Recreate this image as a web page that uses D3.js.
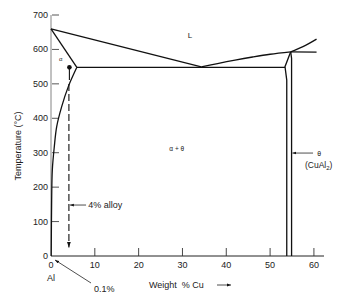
<!DOCTYPE html>
<html>
<head>
<meta charset="utf-8">
<script src="https://cdn.jsdelivr.net/npm/d3@7"></script>
<style>
  body { margin: 0; background: #fff; }
  svg text { font-family: "Liberation Sans", Arial, sans-serif; fill: #222; }
  .phase { fill: none; stroke: #111; stroke-width: 1.3; }
</style>
</head>
<body>
<div id="chart"></div>
<script>
// tick values
var xTicks = [10, 20, 30, 40, 50, 60];
var xTickLabels = [0, 10, 20, 30, 40, 50, 60];
var yTicks = [0, 100, 200, 300, 400, 500, 600, 700];

// phase boundaries, [wt% Cu, temperature C]
var liquidusAl = [[0, 660], [34.3, 549]];
var liquidusTheta = [[34.3, 549], [38, 559], [42, 569], [46, 578], [50, 586], [54.7, 593]];
var liquidusBeyond = [[54.7, 593], [57.5, 608], [60.6, 630]];
var peritectic = [[54.7, 593], [60.6, 592]];
var solidus = [[0, 660], [5.9, 548]];
var eutectic = [[5.9, 548], [53.4, 548]];
var solvus = [[5.9, 548], [3.95, 492], [2.44, 434], [1.3, 376], [0.75, 317], [0.3, 250], [0.15, 163], [0.05, 0]];
var thetaLeft = [[54.7, 593], [53.4, 550], [53.8, 511], [53.8, 0]];
var thetaRight = [[54.7, 593], [54.9, 574], [54.9, 0]];

// 4% alloy marker
var alloyX = 4.2;
var alloyTop = 548;
var alloySolidEnd = 511;
var alloyBottom = 25;

var width = 350, height = 300;
var svg = d3.select("#chart").append("svg")
    .attr("width", width).attr("height", height);

var defs = svg.append("defs");
defs.append("marker").attr("id", "arrow")
    .attr("viewBox", "0 0 10 10").attr("refX", 10).attr("refY", 5)
    .attr("markerWidth", 5).attr("markerHeight", 5)
    .attr("orient", "auto-start-reverse")
    .append("path").attr("d", "M0,1.5 L10,5 L0,8.5 z").attr("fill", "#111");

var x = d3.scaleLinear().domain([0, 62.3]).range([51, 324]);
var y = d3.scaleLinear().domain([0, 700]).range([256, 15]);

// axes
svg.append("line").attr("x1", x(0)).attr("x2", x(62.3))
    .attr("y1", y(0)).attr("y2", y(0))
    .attr("stroke", "#222").attr("stroke-width", 1);
svg.append("line").attr("x1", x(0)).attr("x2", x(0))
    .attr("y1", y(0)).attr("y2", y(700))
    .attr("stroke", "#666").attr("stroke-width", 0.8);

svg.selectAll(".xtick").data(xTicks).enter().append("line")
    .attr("x1", function (d) { return x(d); }).attr("x2", function (d) { return x(d); })
    .attr("y1", y(0)).attr("y2", y(0) - 8)
    .attr("stroke", "#333").attr("stroke-width", 0.9);
svg.selectAll(".xlab").data(xTickLabels).enter().append("text")
    .attr("x", function (d) { return x(d); }).attr("y", y(0) + 12)
    .attr("text-anchor", "middle").attr("font-size", 9).text(function (d) { return d; });

svg.selectAll(".ytick").data(yTicks.slice(1)).enter().append("line")
    .attr("x1", x(0) + 1).attr("x2", x(0) + 8)
    .attr("y1", function (d) { return y(d); }).attr("y2", function (d) { return y(d); })
    .attr("stroke", "#444").attr("stroke-width", 0.9);
svg.selectAll(".ylab").data(yTicks).enter().append("text")
    .attr("x", x(0) - 3).attr("y", function (d) { return y(d) + 3; })
    .attr("text-anchor", "end").attr("font-size", 9).text(function (d) { return d; });

svg.append("text")
    .attr("transform", "translate(21," + 146 + ") rotate(-90)")
    .attr("text-anchor", "middle").attr("font-size", 9)
    .text("Temperature (°C)");

// phase lines
var straight = d3.line().x(function (d) { return x(d[0]); }).y(function (d) { return y(d[1]); });
var smooth = d3.line().curve(d3.curveCatmullRom).x(function (d) { return x(d[0]); }).y(function (d) { return y(d[1]); });

[liquidusAl, peritectic, solidus, eutectic, thetaLeft, thetaRight].forEach(function (pts) {
    svg.append("path").datum(pts).attr("class", "phase").attr("d", straight);
});
[liquidusTheta, liquidusBeyond, solvus].forEach(function (pts) {
    svg.append("path").datum(pts).attr("class", "phase").attr("d", smooth);
});

// 4% alloy path
svg.append("circle").attr("cx", x(alloyX)).attr("cy", y(alloyTop)).attr("r", 2.3).attr("fill", "#111");
svg.append("line").attr("x1", x(alloyX)).attr("x2", x(alloyX))
    .attr("y1", y(alloyTop)).attr("y2", y(alloySolidEnd))
    .attr("stroke", "#111").attr("stroke-width", 1.1);
svg.append("line").attr("x1", x(alloyX) - 0.5).attr("x2", x(alloyX) - 0.5)
    .attr("y1", y(alloySolidEnd) + 4).attr("y2", y(alloyBottom))
    .attr("stroke", "#111").attr("stroke-width", 1.1)
    .attr("stroke-dasharray", "7,3")
    .attr("marker-end", "url(#arrow)");

// labels
svg.append("text").attr("x", x(31.7)).attr("y", y(642) + 3)
    .attr("text-anchor", "middle").attr("font-size", 8).text("L");
svg.append("text").attr("x", x(2.2)).attr("y", y(571) + 2)
    .attr("text-anchor", "middle").attr("font-size", 6).attr("font-family", "DejaVu Serif").text("α");
svg.append("text").attr("x", x(28.7)).attr("y", y(311) + 2)
    .attr("text-anchor", "middle").attr("font-size", 6.5).attr("font-family", "DejaVu Serif").text("α + θ");

svg.append("line").attr("x1", x(8.0)).attr("x2", x(alloyX) + 0.5)
    .attr("y1", y(148)).attr("y2", y(148))
    .attr("stroke", "#222").attr("stroke-width", 0.8).attr("marker-end", "url(#arrow)");
svg.append("text").attr("x", x(8.5)).attr("y", y(148) + 3)
    .attr("font-size", 9).text("4% alloy");

svg.append("line").attr("x1", x(59.8)).attr("x2", x(55.1))
    .attr("y1", y(299)).attr("y2", y(299))
    .attr("stroke", "#222").attr("stroke-width", 0.8).attr("marker-end", "url(#arrow)");
svg.append("text").attr("x", x(61.2)).attr("y", y(299) + 3)
    .attr("text-anchor", "middle").attr("font-size", 7).attr("font-family", "DejaVu Serif").text("θ");
var cu = svg.append("text").attr("x", x(61.1)).attr("y", y(264) + 3)
    .attr("text-anchor", "middle").attr("font-size", 8.5);
cu.append("tspan").text("(CuAl");
cu.append("tspan").attr("font-size", 6).attr("dy", 2).text("2");
cu.append("tspan").attr("dy", -2).text(")");

svg.append("text").attr("x", x(0)).attr("y", 281)
    .attr("text-anchor", "middle").attr("font-size", 9).text("Al");
svg.append("line").attr("x1", 91).attr("x2", 55).attr("y1", 283).attr("y2", 260)
    .attr("stroke", "#222").attr("stroke-width", 0.8).attr("marker-end", "url(#arrow)");
svg.append("text").attr("x", 94).attr("y", 292).attr("font-size", 9).text("0.1%");

svg.append("text").attr("x", 149).attr("y", 288).attr("font-size", 9)
    .attr("xml:space", "preserve").text("Weight  % Cu");
svg.append("line").attr("x1", 217).attr("x2", 231).attr("y1", 285).attr("y2", 285)
    .attr("stroke", "#222").attr("stroke-width", 0.8).attr("marker-end", "url(#arrow)");
</script>
</body>
</html>
